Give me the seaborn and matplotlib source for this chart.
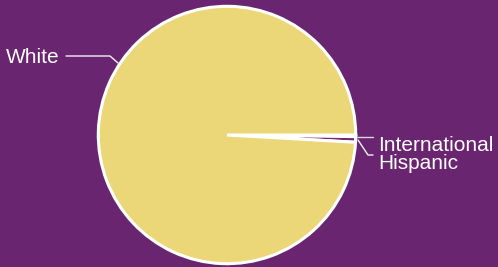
import matplotlib
matplotlib.use("Agg")
import matplotlib.pyplot as plt
import seaborn as sns

categories = ["International", "Hispanic", "White"]
values = [0.2, 0.7, 99.1]
colors = ["#cfcfcf", "#6e2a72", "#ebd678"]

BG = "#6a2570"
sns.set_theme(style="white")
plt.rcParams['font.family'] = ['Liberation Sans', 'DejaVu Sans']

fig = plt.figure(figsize=(4.98, 2.67), dpi=100, facecolor=BG)
W, H = 498, 267
cx, cy, r = 227, 135, 130
ax = fig.add_axes([(cx - r) / W, (H - cy - r) / H, 2 * r / W, 2 * r / H])
ax.set_facecolor(BG)

ax.pie(values, colors=colors, startangle=0, counterclock=False, radius=0.99,
       wedgeprops=dict(edgecolor="white", linewidth=2.2))
ax.set_xlim(-1.0, 1.0)
ax.set_ylim(-1.0, 1.0)
ax.set_aspect("equal")
ax.axis("off")

def d(px, py):
    return ((px - cx) / r, (cy - py) / r)

lc = "#f2f2f2"
fs = 15
# White label
pts = [d(66, 56), d(110, 56), d(118, 63)]
ax.plot([p[0] for p in pts], [p[1] for p in pts], color=lc, lw=1, clip_on=False)
x, y = d(60, 63)
ax.text(x, y, categories[2], color="white", fontsize=fs, ha="right", va="baseline")
# International label
pts = [d(357, 137), d(373, 137)]
ax.plot([p[0] for p in pts], [p[1] for p in pts], color="#d8d8d8", lw=1, clip_on=False)
x, y = d(378, 151)
ax.text(x, y, categories[0], color="white", fontsize=fs, ha="left", va="baseline")
# Hispanic label
pts = [d(358, 140), d(368, 155), d(373, 155)]
ax.plot([p[0] for p in pts], [p[1] for p in pts], color=lc, lw=1, clip_on=False)
x, y = d(378, 169)
ax.text(x, y, categories[1], color="white", fontsize=fs, ha="left", va="baseline")

fig.savefig("out.png", dpi=100, facecolor=BG)
